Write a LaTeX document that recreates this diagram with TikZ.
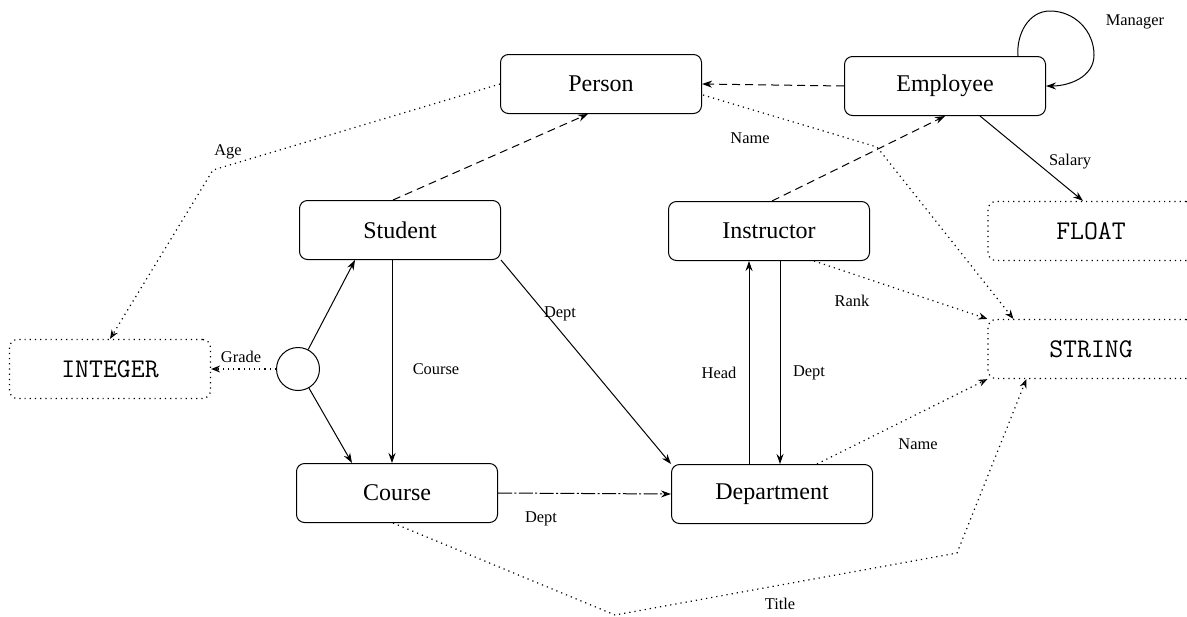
\documentclass[tikz,border=0pt]{standalone}
\usepackage{fontspec}
\setmainfont{Liberation Serif}
\usetikzlibrary{arrows.meta,calc}
\begin{document}
\begin{tikzpicture}[x=0.5pt,y=-0.5pt,
  cls/.style={draw, rounded corners=4pt, minimum width=100.5pt, minimum height=29.5pt,
    inner sep=0pt, line width=0.5pt, font=\fontsize{12}{14}\selectfont},
  basic/.style={draw, dotted, rounded corners=4pt, minimum width=103pt, minimum height=29.5pt,
    inner sep=0pt, line width=0.6pt, font=\fontsize{13.5}{15}\selectfont\ttfamily},
  lbl/.style={font=\fontsize{8.2}{10}\selectfont, inner sep=1pt},
  rel/.style={line width=0.5pt, -{Stealth[length=5pt,width=3.5pt]}},
  isa/.style={line width=0.5pt, dash pattern=on 4pt off 2.5pt, -{Stealth[length=5pt,width=3.5pt]}},
  attr/.style={line width=0.6pt, dotted, -{Stealth[open,length=4.5pt,width=3.5pt]}},
  faint/.style={line width=0.5pt, dash pattern=on 7pt off 1.2pt on 1pt off 1.2pt, -{Stealth[length=5pt,width=3.5pt]}},
]
\useasboundingbox (0,0) rectangle (1187,616);

% classes
\node[cls] (per) at (601,84)  {Person};
\node[cls] (emp) at (945,86)  {Employee};
\node[cls] (stu) at (400,230) {Student};
\node[cls] (ins) at (769,231) {Instructor};
\node[cls] (cou) at (397,493) {Course};
\node[cls] (dep) at (772,494) {Department};

% basic types
\node[basic, minimum width=100.5pt] (int) at (110,369) {INTEGER};
\node[basic] (flo) at (1091,231) {FLOAT};
\node[basic] (str) at (1091,349) {STRING};

% relationship (Grade) circle
\node[draw, circle, minimum size=21.5pt, inner sep=0pt, line width=0.5pt] (grd) at (298,369) {};

% is-a links
\draw[isa] (emp.west) -- (per.east);
\draw[isa] ($(stu.north)+(-7,0)$) -- ($(per.south)+(-13,0)$);
\draw[isa] ($(ins.north)+(3,0)$) -- (emp.south);

% Manager self loop
\coordinate (mtop) at (1050,11);
\coordinate (mright) at (1094,55);
\draw[rel] ($(emp.north)+(73,0)$) to[out=95,in=180] (mtop) to[out=0,in=90] (mright) to[out=270,in=0] (emp.east);
\node[lbl] (lmgr) at (1135,22) {Manager};

% Salary
\draw[rel] ($(emp.south)+(35,0)$) -- ($(flo.north)+(-8,0)$);
\node[lbl] (lsal) at (1070,162) {Salary};

% Person Name
\coordinate (pname) at (877,147);
\draw[attr] ($(per.east)+(1,11)$) -- (pname) -- ($(str.north west)+(26,0)$);
\node[lbl] (lpname) at (750,138) {Name};

% Age
\coordinate (page) at (213,170);
\draw[attr] (per.west) -- (page) -- (int.north);
\node[lbl] (lage) at (228,152) {Age};

% Grade
\draw[attr] (grd.west) -- (int.east);
\node[lbl] (lgrade) at (241,357) {Grade};
\draw[rel] (grd) -- ($(stu.south)+(-45,0)$);
\draw[rel] (grd) -- ($(cou.north)+(-45,0)$);

% Student links
\draw[rel] ($(stu.south)+(-8,0)$) -- ($(cou.north)+(-5,0)$);
\node[lbl] (lcourse) at (436,369) {Course};
\draw[rel] (stu.south east) -- (dep.north west);
\node[lbl] (lsdept) at (560,314) {Dept};

% Head / Dept between Instructor and Department
\draw[rel] ($(dep.north)+(-23,0)$) -- ($(ins.south)+(-20,0)$);
\node[lbl] (lhead) at (719,373) {Head};
\draw[rel] ($(ins.south)+(11,0)$) -- ($(dep.north)+(8,0)$);
\node[lbl] (lidept) at (809,373) {Dept};

% Course Dept
\draw[faint] (cou.east) -- (dep.west);
\node[lbl] (lcdept) at (541,519) {Dept};

% Rank
\draw[attr] ($(ins.south east)+(-56,0)$) -- (str.north west);
\node[lbl] (lrank) at (852,301) {Rank};

% Department Name
\draw[attr] ($(dep.north east)+(-56,0)$) -- (str.south west);
\node[lbl] (ldname) at (918,444) {Name};

% Title
\coordinate (tlow) at (615,615);
\coordinate (tright) at (957,553);
\draw[attr] ($(cou.south)+(-4,0)$) -- (tlow) -- (tright) -- ($(str.south west)+(39,0)$);
\node[lbl] (ltitle) at (780,604) {Title};
\end{tikzpicture}
\end{document}
